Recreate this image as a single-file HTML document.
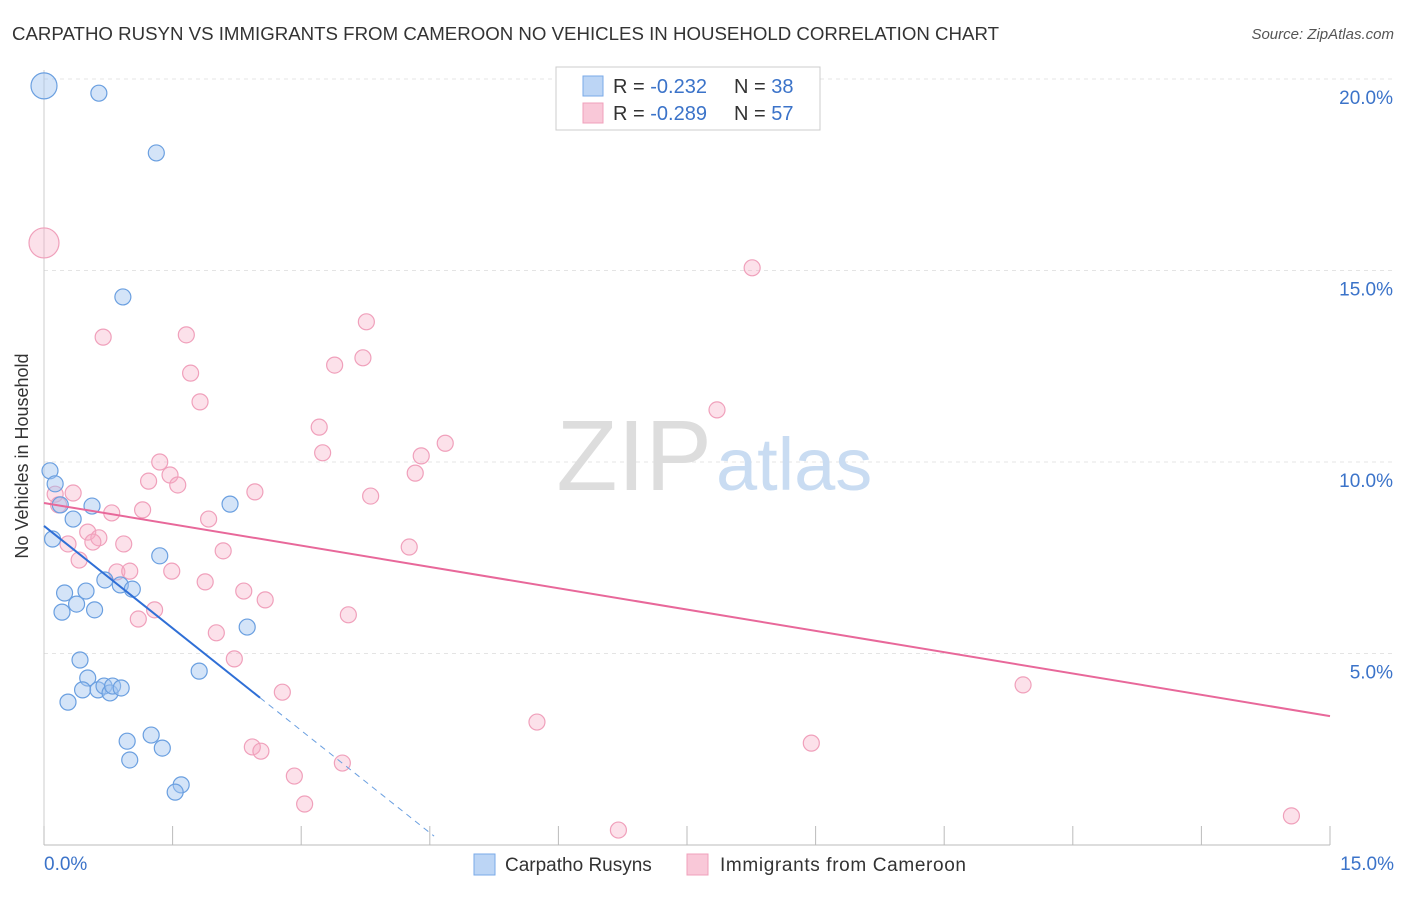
<!DOCTYPE html>
<html><head><meta charset="utf-8"><style>
body{margin:0;background:#fff;font-family:"Liberation Sans",sans-serif;}
svg text{font-family:"Liberation Sans",sans-serif;}
</style></head><body>
<svg id="chart" width="1406" height="892" viewBox="0 0 1406 892">
<text x="12" y="40" font-size="18" fill="#333" textLength="987" lengthAdjust="spacingAndGlyphs">CARPATHO RUSYN VS IMMIGRANTS FROM CAMEROON NO VEHICLES IN HOUSEHOLD CORRELATION CHART</text>
<text x="1394" y="39" font-size="15" fill="#555" text-anchor="end" font-style="italic">Source: ZipAtlas.com</text>
<g id="grid"></g>
<g id="ticks"></g>
<text x="712" y="490" font-size="100" fill="#ddd" text-anchor="end" font-family="Liberation Serif">ZIP</text>
<text x="716" y="490" font-size="74" fill="#c9dcf2">atlas</text>
<g id="pts"></g>
<g id="trends"></g>
<text x="28" y="456" font-size="18" fill="#333" text-anchor="middle" transform="rotate(-90 28 456)">No Vehicles in Household</text>
<g>
<rect x="556" y="67" width="264" height="63" fill="#fff" stroke="#ccc"/>
<rect x="583" y="76" width="20" height="20" fill="#bcd5f5" stroke="#7aaae8"/>
<text x="613" y="93" font-size="20" fill="#333">R = <tspan fill="#3b73c9">-0.232</tspan></text>
<text x="734" y="93" font-size="20" fill="#333">N = <tspan fill="#3b73c9">38</tspan></text>
<rect x="583" y="103" width="20" height="20" fill="#f9c8d8" stroke="#f0a0bb"/>
<text x="613" y="120" font-size="20" fill="#333">R = <tspan fill="#3b73c9">-0.289</tspan></text>
<text x="734" y="120" font-size="20" fill="#333">N = <tspan fill="#3b73c9">57</tspan></text>
</g>
<g>
<rect x="474" y="854" width="21" height="21" fill="#bcd5f5" stroke="#7aaae8"/>
<text x="505" y="871" font-size="19" fill="#333">Carpatho Rusyns</text>
<rect x="687" y="854" width="21" height="21" fill="#f9c8d8" stroke="#f0a0bb"/>
<text x="720" y="871" font-size="19" fill="#333" textLength="246">Immigrants from Cameroon</text>
</g>
</svg>
<script>
const blueX=[0,0.64,1.31,0.92,0.07,0.13,0.56,0.19,0.34,0.10,2.17,1.35,0.24,0.49,0.21,0.38,0.59,0.71,0.89,1.03,2.37,0.42,1.81,0.51,0.45,0.63,0.70,0.77,0.80,0.90,0.28,0.97,1.25,1.38,1.00,1.60,1.53];
const blueY=[19.82,19.63,18.07,14.31,9.77,9.43,8.85,8.88,8.51,7.99,8.90,7.55,6.58,6.63,6.08,6.29,6.14,6.92,6.79,6.68,5.69,4.83,4.54,4.36,4.05,4.05,4.15,3.97,4.15,4.10,3.73,2.71,2.87,2.53,2.22,1.57,1.38];
const pinkX=[0,8.26,0.69,1.66,3.76,3.72,3.39,1.71,1.82,7.85,3.21,4.68,3.25,4.40,1.35,1.47,4.33,1.22,1.56,0.13,0.34,2.46,3.81,0.17,0.79,1.15,1.92,0.51,0.64,0.57,0.28,0.93,4.26,2.09,0.41,0.85,1.00,1.49,1.88,2.33,2.58,1.29,3.55,1.10,2.01,2.22,11.42,2.78,5.75,8.95,2.43,2.53,3.48,2.92,3.04,6.70,14.55];
const pinkY=[15.72,15.07,13.26,13.32,13.66,12.72,12.53,12.32,11.57,11.36,10.91,10.49,10.24,10.16,10.00,9.66,9.71,9.50,9.40,9.16,9.19,9.22,9.11,8.88,8.67,8.75,8.51,8.17,8.02,7.91,7.86,7.86,7.78,7.68,7.44,7.13,7.15,7.15,6.87,6.63,6.40,6.14,6.01,5.90,5.54,4.86,4.18,3.99,3.21,2.66,2.56,2.45,2.14,1.80,1.07,0.39,0.76];
const yTicks=[5,10,15,20];
const yTickLabels=["5.0%","10.0%","15.0%","20.0%"];
const xTicks=[0,1.5,3,4.5,6,7.5,9,10.5,12,13.5,15];
const blueTrend=[8.33,-1.78,2.52,4.55];
const pinkTrend=[8.93,-0.371,15];
const NS="http://www.w3.org/2000/svg";
const X=v=>44+v/15*1286, Y=v=>845-v*38.3;
function mk(t,a,p){const e=document.createElementNS(NS,t);for(const k in a)e.setAttribute(k,a[k]);p.appendChild(e);return e;}
const grid=document.getElementById('grid'),ticks=document.getElementById('ticks');
yTicks.forEach((v,i)=>{
 const l=mk('line',{x1:44,x2:1394,y1:Y(v),y2:Y(v),stroke:'#e4e4e4','stroke-dasharray':'4,4'},grid);
 
 
 const t=mk('text',{x:1393,y:Y(v)+25,'font-size':19,fill:'#3b73c9','text-anchor':'end'},ticks);
 t.textContent=yTickLabels[i];
 
 
});
const ax=mk('line',{x1:44,x2:1330,y1:845,y2:845,stroke:'#bbb'},ticks);


const ay=mk('line',{x1:44,x2:44,y1:70,y2:845,stroke:'#ccc'},ticks);


xTicks.forEach(v=>{
 const l=mk('line',{x1:X(v),x2:X(v),y1:826,y2:845,stroke:'#bbb'},ticks);
 
 
});
const xl0=mk('text',{x:44,y:870,'font-size':19,fill:'#3b73c9'},ticks);xl0.textContent='0.0%';


const xl1=mk('text',{x:1394,y:870,'font-size':19,fill:'#3b73c9','text-anchor':'end'},ticks);xl1.textContent='15.0%';


const pts=document.getElementById('pts');
pinkX.forEach((v,i)=>{
 const c=mk('circle',{cx:X(v),cy:Y(pinkY[i]),r:i==0?15:8,fill:'rgba(245,170,195,0.35)',stroke:'#f0a0bb','stroke-width':1.2},pts);
 
 
});
blueX.forEach((v,i)=>{
 const c=mk('circle',{cx:X(v),cy:Y(blueY[i]),r:i==0?13:8,fill:'rgba(160,196,240,0.45)',stroke:'#6a9fe0','stroke-width':1.2},pts);
 
 
});
const tr=document.getElementById('trends');
const b1=mk('line',{x1:X(0),y1:Y(blueTrend[0]),x2:X(blueTrend[2]),y2:Y(blueTrend[0]+blueTrend[1]*blueTrend[2]),stroke:'#2f6fd6','stroke-width':2},tr);


const b2=mk('line',{x1:X(blueTrend[2]),y1:Y(blueTrend[0]+blueTrend[1]*blueTrend[2]),x2:X(blueTrend[3]),y2:Y(blueTrend[0]+blueTrend[1]*blueTrend[3]),stroke:'#6a9fe0','stroke-width':1,'stroke-dasharray':'6,5'},tr);


const p1=mk('line',{x1:X(0),y1:Y(pinkTrend[0]),x2:X(pinkTrend[2]),y2:Y(pinkTrend[0]+pinkTrend[1]*pinkTrend[2]),stroke:'#e8689a','stroke-width':2},tr);


</script>
</body></html>
